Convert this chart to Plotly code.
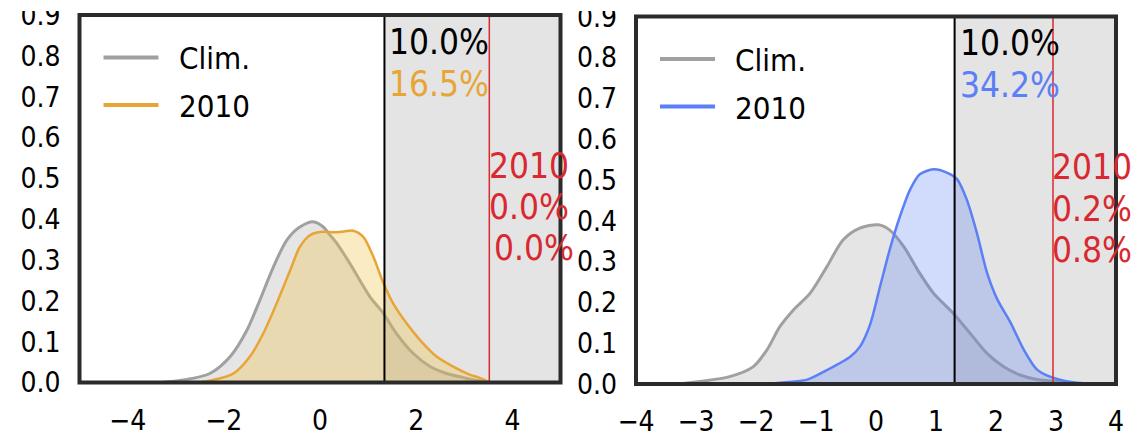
import plotly.graph_objects as go

W, H = 1132, 438
FONT = "DejaVu Sans Condensed, DejaVu Sans"

# ---- left panel: climatology vs 2010 (orange) ----
clim_l_x = [-3.3, -2.84, -2.29, -1.87, -1.52, -1.25, -0.97, -0.69, -0.42, -0.14, 0.07, 0.21,
            0.35, 0.62, 1.04, 1.32, 1.59, 1.94, 2.29, 2.63, 2.91, 3.2, 3.5]
clim_l_y = [0.0, 0.006, 0.022, 0.063, 0.128, 0.202, 0.283, 0.349, 0.381, 0.394, 0.381, 0.361,
            0.341, 0.292, 0.21, 0.169, 0.12, 0.071, 0.039, 0.022, 0.014, 0.006, 0.001]
yr_l_x = [-2.5, -2.22, -1.80, -1.46, -1.18, -0.90, -0.62, -0.42, -0.21, 0.0, 0.28, 0.50, 0.69,
          0.90, 1.11, 1.32, 1.52, 1.80, 2.08, 2.43, 2.77, 3.1, 3.35, 3.52]
yr_l_y = [0.0, 0.006, 0.022, 0.063, 0.12, 0.194, 0.275, 0.332, 0.361, 0.369, 0.368, 0.37, 0.372,
          0.357, 0.308, 0.243, 0.194, 0.145, 0.104, 0.063, 0.039, 0.02, 0.01, 0.0]
thr_l, rec_l = 1.34, 3.52
pct_l = ["10.0%", "16.5%"]
rec_txt_l = ["2010", "0.0%", "0.0%"]

# ---- right panel: climatology vs 2010 (blue) ----
clim_r_x = [-3.3, -2.94, -2.44, -2.05, -1.82, -1.60, -1.38, -1.10, -0.82, -0.55, -0.27, 0.04,
            0.23, 0.46, 0.73, 0.96, 1.29, 1.57, 1.85, 2.13, 2.40, 2.68, 3.02, 3.4]
clim_r_y = [0.0, 0.006, 0.018, 0.042, 0.083, 0.141, 0.181, 0.222, 0.287, 0.353, 0.382, 0.39,
            0.377, 0.337, 0.271, 0.222, 0.173, 0.124, 0.075, 0.042, 0.022, 0.011, 0.006, 0.0]
yr_r_x = [-1.9, -1.55, -1.16, -0.82, -0.43, -0.27, -0.10, 0.07, 0.23, 0.40, 0.57, 0.73, 0.96,
          1.18, 1.35, 1.51, 1.68, 1.85, 2.02, 2.24, 2.46, 2.68, 2.90, 3.2, 3.6]
yr_r_y = [0.0, 0.004, 0.010, 0.034, 0.067, 0.091, 0.145, 0.24, 0.330, 0.411, 0.477, 0.514, 0.526,
          0.518, 0.502, 0.453, 0.371, 0.273, 0.208, 0.151, 0.085, 0.036, 0.018, 0.006, 0.0]
thr_r, rec_r = 1.31, 2.95
pct_r = ["10.0%", "34.2%"]
rec_txt_r = ["2010", "0.2%", "0.8%"]

x_ticks_l = [-4, -2, 0, 2, 4]
x_ticks_r = [-4, -3, -2, -1, 0, 1, 2, 3, 4]
y_ticks = [0.0, 0.1, 0.2, 0.3, 0.4, 0.5, 0.6, 0.7, 0.8, 0.9]

GRAY = "#a0a0a0"
ORANGE = "#e8a537"
BLUE = "#5b7ff7"
RED = "#d9282f"


def px(x):
    return x / W


def py(y):
    return 1 - y / H


def tick_label(v):
    return ("\u2212" + str(abs(v))) if v < 0 else str(v)


fig = go.Figure()

panels = [
    dict(xa="x", ya="y", clim=(clim_l_x, clim_l_y), yr=(yr_l_x, yr_l_y), col=ORANGE,
         fill="rgba(240,195,70,0.33)", thr=thr_l, rec=rec_l, pct=pct_l, rec_txt=rec_txt_l,
         xmax=5, left=79.5, top=15.0, rec_shift=[2, 2, 7]),
    dict(xa="x2", ya="y2", clim=(clim_r_x, clim_r_y), yr=(yr_r_x, yr_r_y), col=BLUE,
         fill="rgba(91,127,245,0.28)", thr=thr_r, rec=rec_r, pct=pct_r, rec_txt=rec_txt_r,
         xmax=4, left=636.0, top=16.5, rec_shift=[1, 1, 1]),
]

shapes = []
annotations = []
for p in panels:
    fig.add_trace(go.Scatter(x=p["clim"][0], y=p["clim"][1], xaxis=p["xa"], yaxis=p["ya"],
                             mode="lines", line=dict(color=GRAY, width=3, shape="spline", smoothing=0.8),
                             fill="tozeroy", fillcolor="rgba(160,160,160,0.27)", showlegend=False,
                             hoverinfo="skip"))
    fig.add_trace(go.Scatter(x=p["yr"][0], y=p["yr"][1], xaxis=p["xa"], yaxis=p["ya"],
                             mode="lines", line=dict(color=p["col"], width=2.5, shape="spline", smoothing=0.8),
                             fill="tozeroy", fillcolor=p["fill"], showlegend=False, hoverinfo="skip"))
    xd = p["xa"] + " domain"
    yd = p["ya"] + " domain"
    # exceedance region beyond the climatological threshold
    shapes.append(dict(type="rect", xref=p["xa"], yref=yd, x0=p["thr"], x1=p["xmax"], y0=0, y1=1,
                       fillcolor="#e4e4e4", line=dict(width=0), layer="below"))
    shapes.append(dict(type="line", xref=p["xa"], yref=yd, x0=p["thr"], x1=p["thr"], y0=0, y1=1,
                       line=dict(color="black", width=2), layer="above"))
    shapes.append(dict(type="line", xref=p["xa"], yref=yd, x0=p["rec"], x1=p["rec"], y0=0, y1=1,
                       line=dict(color=RED, width=1.5), layer="above"))
    shapes.append(dict(type="rect", xref=xd, yref=yd, x0=0, x1=1, y0=0, y1=1,
                       line=dict(color="#2b2b2b", width=4), layer="above"))

    # legend
    L, T = p["left"], p["top"]
    for i, (name, c) in enumerate([("Clim.", GRAY), ("2010", p["col"])]):
        yy = T + 42.5 + i * 47.5
        shapes.append(dict(type="line", xref="paper", yref="paper", x0=px(L + 24), x1=px(L + 79),
                           y0=py(yy), y1=py(yy), line=dict(color=c, width=4), layer="above"))
        annotations.append(dict(xref="paper", yref="paper", x=px(L + 97), y=py(yy + 1),
                                xanchor="left", yanchor="middle", text=name, showarrow=False,
                                font=dict(family=FONT, size=31, color="black")))

    # percentages above threshold
    for i, (t, c) in enumerate(zip(p["pct"], ["black", p["col"]])):
        annotations.append(dict(xref=p["xa"], yref="paper", x=p["thr"], xshift=3,
                                y=py(T + 27 + i * 41.5), xanchor="left", yanchor="middle",
                                text=t, showarrow=False,
                                font=dict(family=FONT, size=35, color=c)))
    for i, t in enumerate(p["rec_txt"]):
        annotations.append(dict(xref=p["xa"], yref="paper", x=p["rec"], xshift=p["rec_shift"][i] - 4,
                                y=py(T + 151 + i * 41), xanchor="left", yanchor="middle",
                                text=t, showarrow=False,
                                font=dict(family=FONT, size=35, color=RED)))

# mask the clipped strip along the top edge
shapes.append(dict(type="rect", xref="paper", yref="paper", x0=0, x1=1, y0=py(11), y1=1,
                   fillcolor="white", line=dict(width=0), layer="above"))

axis_font = dict(family=FONT, size=28, color="black")
common_x = dict(showgrid=False, zeroline=False, showline=False, ticks="", tickfont=axis_font,
                ticklabelstandoff=18, fixedrange=True, automargin=False,
                ticklabeloverflow="allow")
common_y = dict(showgrid=False, zeroline=False, showline=False, ticks="", tickfont=axis_font,
                range=[0, 0.9005], tickvals=y_ticks, ticktext=[f"{v:.1f}" for v in y_ticks],
                ticklabelstandoff=18, fixedrange=True, automargin=False,
                ticklabeloverflow="allow")

fig.update_layout(
    width=W, height=H,
    margin=dict(l=0, r=0, t=0, b=0, autoexpand=False),
    paper_bgcolor="white", plot_bgcolor="white",
    showlegend=False,
    xaxis=dict(domain=[px(79.5), px(560.5)], range=[-5, 5], tickvals=x_ticks_l,
               ticktext=[tick_label(v) for v in x_ticks_l], anchor="y", **common_x),
    yaxis=dict(domain=[py(382.5), py(15.0)], anchor="x", **common_y),
    xaxis2=dict(domain=[px(636), px(1116)], range=[-4, 4], tickvals=x_ticks_r,
                ticktext=[tick_label(v) for v in x_ticks_r], anchor="y2", **common_x),
    yaxis2=dict(domain=[py(384), py(16.5)], anchor="x2", **common_y),
    shapes=shapes,
    annotations=annotations,
)

fig.write_html("out.html")
